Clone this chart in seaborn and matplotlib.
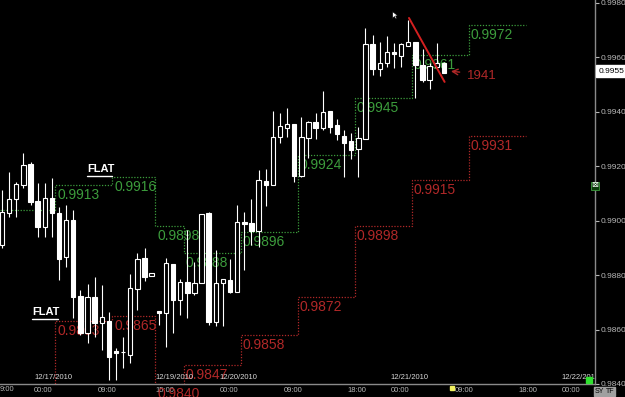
import matplotlib
matplotlib.use("Agg")
import matplotlib.pyplot as plt
import seaborn as sns
import numpy as np
import pandas as pd
from matplotlib.transforms import blended_transform_factory

# ---------------- data ----------------
opens = [0.98911, 0.99028, 0.99080, 0.99131, 0.99208, 0.99072, 0.98977, 0.99083, 0.99028, 0.98867,
         0.99003, 0.98723, 0.98587, 0.98720, 0.98624, 0.98631, 0.98521, 0.98517, 0.98506, 0.98749,
         0.98863, 0.98797, 0.98668, 0.98661, 0.98841, 0.98709, 0.98775, 0.98734, 0.98771, 0.99028,
         0.98628, 0.98771, 0.98782, 0.98738, 0.98995, 0.98991, 0.98962, 0.99146, 0.99131, 0.99308,
         0.99341, 0.99355, 0.99164, 0.99304, 0.99363, 0.99341, 0.99403, 0.99352, 0.99311, 0.99293,
         0.99263, 0.99300, 0.99649, 0.99557, 0.99579, 0.99620, 0.99605, 0.99642, 0.99657, 0.99572,
         0.99517, 0.99565, 0.99579]
closes = [0.99032, 0.99080, 0.99135, 0.99205, 0.99069, 0.98977, 0.99083, 0.99028, 0.98859, 0.99002,
          0.98720, 0.98587, 0.98720, 0.98624, 0.98646, 0.98499, 0.98514, 0.98517, 0.98753, 0.98859,
          0.98793, 0.98808, 0.98661, 0.98844, 0.98709, 0.98775, 0.98734, 0.98771, 0.99025, 0.98628,
          0.98771, 0.98786, 0.98738, 0.98995, 0.98988, 0.98962, 0.99150, 0.99131, 0.99308, 0.99348,
          0.99355, 0.99164, 0.99308, 0.99363, 0.99341, 0.99399, 0.99344, 0.99319, 0.99285, 0.99260,
          0.99304, 0.99649, 0.99557, 0.99579, 0.99620, 0.99613, 0.99649, 0.99657, 0.99572, 0.99517,
          0.99568, 0.99579, 0.99543]
highs = [0.99113, 0.99179, 0.99142, 0.99249, 0.99216, 0.99138, 0.99138, 0.99157, 0.99050, 0.99058,
         0.99039, 0.98745, 0.98767, 0.98793, 0.98764, 0.98664, 0.98532, 0.98572, 0.98804, 0.98881,
         0.98900, 0.98808, 0.98668, 0.98863, 0.98841, 0.98786, 0.98966, 0.98848, 0.99025, 0.99032,
         0.98892, 0.98786, 0.98859, 0.99058, 0.99032, 0.99080, 0.99186, 0.99190, 0.99403, 0.99396,
         0.99414, 0.99355, 0.99381, 0.99366, 0.99396, 0.99477, 0.99403, 0.99374, 0.99333, 0.99322,
         0.99344, 0.99708, 0.99682, 0.99657, 0.99679, 0.99653, 0.99653, 0.99738, 0.99657, 0.99631,
         0.99579, 0.99653, 0.99583]
lows = [0.98900, 0.99014, 0.99014, 0.99120, 0.99058, 0.98940, 0.98940, 0.98940, 0.98782, 0.98830,
        0.98642, 0.98580, 0.98551, 0.98573, 0.98525, 0.98414, 0.98414, 0.98459, 0.98477, 0.98672,
        0.98778, 0.98797, 0.98617, 0.98536, 0.98587, 0.98653, 0.98642, 0.98727, 0.98771, 0.98617,
        0.98613, 0.98613, 0.98734, 0.98738, 0.98819, 0.98911, 0.98903, 0.99054, 0.99131, 0.99285,
        0.99308, 0.99142, 0.99161, 0.99230, 0.99300, 0.99333, 0.99322, 0.99297, 0.99161, 0.99227,
        0.99161, 0.99300, 0.99535, 0.99532, 0.99565, 0.99561, 0.99565, 0.99642, 0.99451, 0.99510,
        0.99484, 0.99557, 0.99543]

step_edges = [-0.3, 7.5, 15.5, 21.5, 25.5, 33.5, 41.5, 49.5, 57.5, 65.5, 73.5]
resist_levels = [0.9904, 0.9913, 0.9916, 0.9898, 0.9888, 0.9896, 0.9924, 0.9945, 0.9961, 0.9972]
support_levels = [0.9832, 0.9863, 0.9865, 0.9840, 0.9847, 0.9858, 0.9872, 0.9898, 0.9915, 0.9931]

time_ticks = [4.5, 13.5, 21.5, 30.5, 39.5, 48.5, 54.5, 63.5, 72.5, 78.5]
time_labels = ["00:00", "09:00", "15:00", "00:00", "09:00", "18:00", "00:00", "09:00", "18:00", "00:00"]
date_ticks = [4.5, 21.5, 30.5, 54.5, 78.5]
date_labels = ["12/17/2010", "12/19/2010", "12/20/2010", "12/21/2010", "12/22/2010"]
y_ticks = [0.9840, 0.9860, 0.9880, 0.9900, 0.9920, 0.9940, 0.9960, 0.9980]

flat_notes = [(11.9, 0.99170), (4.2, 0.98645)]
trend_x = [57.1, 62.1]
trend_y = [0.99745, 0.99510]
last_price = 0.9955

# ---------------- style ----------------
sns.set_style("dark", {"axes.facecolor": "black", "figure.facecolor": "black",
                       "axes.edgecolor": "#8a8a8a"})
plt.rcParams['font.family'] = ['Liberation Sans', 'DejaVu Sans']

GREEN = "#3c9c3c"
RED = "#b02828"
GRAY = "#b8b8b8"

fig = plt.figure(figsize=(6.25, 3.97), dpi=100)
ax = fig.add_axes([0, 13 / 397, 595 / 625, 384 / 397])
ax.set_facecolor("black")

n = len(opens)
idx = np.arange(n)
o = np.array(opens); c = np.array(closes); h = np.array(highs); l = np.array(lows)
up = c >= o

# step levels (seaborn)
for levels, col in [(resist_levels, GREEN), (support_levels, RED)]:
    df = pd.DataFrame({"x": step_edges, "y": levels + [levels[-1]]})
    sns.lineplot(data=df, x="x", y="y", ax=ax, sort=False, estimator=None,
                 drawstyle="steps-post", color=col, linewidth=0.9,
                 linestyle=(0, (1, 1.3)), zorder=1)
    for x0, lv in zip(step_edges[1:], levels[1:]):
        ax.text(x0 + 0.25, lv - 0.00011, f"{lv:.4f}", color=col, fontsize=10,
                ha="left", va="top", zorder=1, clip_on=False)

# candles
ax.vlines(idx, l, h, color="white", linewidth=0.8, zorder=2)
bottom = np.minimum(o, c)
height = np.abs(c - o)
ax.bar(idx[up], height[up], bottom=bottom[up], width=0.62, facecolor="black",
       edgecolor="white", linewidth=0.8, zorder=3)
ax.bar(idx[~up], height[~up], bottom=bottom[~up], width=0.62, facecolor="white",
       edgecolor="white", linewidth=0.8, zorder=3)

# trendline, arrow, note
ax.plot(trend_x, trend_y, color="#d42020", linewidth=1.4, zorder=4)
ax.annotate("", xy=(62.6, 0.99550), xytext=(64.6, 0.99545),
            arrowprops=dict(arrowstyle="->", color=RED, lw=1.0), zorder=4)
ax.text(65.2, 0.99532, "1941", color=RED, fontsize=9.5, ha="left", va="center", zorder=4)

# FLAT notes
for fx, fy in flat_notes:
    t = ax.text(fx, fy, "FLAT", color="white", fontsize=8, fontweight="bold",
                ha="left", va="bottom", zorder=4)
    ax.plot([fx, fx + 3.6], [fy - 0.00006, fy - 0.00006], color="white", lw=1.0, zorder=4)

# mouse cursor
cursor = [(0, 0), (0, -11), (3, -8), (5, -12), (7, -11), (5, -7), (9, -7), (0, 0)]
ax.plot([54.7], [0.99770], marker=cursor, markersize=11, color="white",
        markeredgecolor="black", markeredgewidth=0.5, zorder=5)

# axes
ax.set_xlim(-0.28, 83.2)
ax.set_ylim(0.98400, 0.99811)
ax.yaxis.tick_right()
ax.set_yticks(y_ticks)
ax.set_yticklabels([f"{v:.4f}" for v in y_ticks])
ax.set_xticks(time_ticks)
ax.set_xticklabels(time_labels, ha="left")
ax.tick_params(axis="y", colors=GRAY, labelsize=6, length=3, direction="out", pad=1,
               width=0.8)
ax.tick_params(axis="x", colors=GRAY, labelsize=5.5, length=3, direction="inout", pad=1,
               width=0.8)
ax.set_xlabel(""); ax.set_ylabel("")
for s in ["top", "left"]:
    ax.spines[s].set_visible(False)
for s in ["bottom", "right"]:
    ax.spines[s].set_color("#8a8a8a")
    ax.spines[s].set_linewidth(1.0)
ax.grid(False)

tr = blended_transform_factory(ax.transData, ax.transAxes)
for dx, dl in zip(date_ticks, date_labels):
    ax.text(dx, 0.008, dl, transform=tr, color="#d8d8d8", fontsize=5.5,
            ha="left", va="bottom", clip_on=True)
ax.text(0.0, -0.005, "9:00", transform=ax.transAxes, color=GRAY, fontsize=5.5,
        ha="left", va="top")

# last price box
ty = blended_transform_factory(ax.transAxes, ax.transData)
ax.text(1.006, last_price, f"{last_price:.4f}", transform=ty, color="black", fontsize=6,
        ha="left", va="center",
        bbox=dict(boxstyle="square,pad=0.25", facecolor="white", edgecolor="white"))
ax.text(0.994, 0.99128, "\u22a0", transform=ty, color="white", fontsize=6,
        ha="left", va="center", clip_on=False,
        bbox=dict(boxstyle="square,pad=0.1", facecolor="#0a3a0a", edgecolor=GREEN, lw=0.6))

# small status markers
fig.text(595 / 625, 2 / 397, "SY", color="black", fontsize=5, ha="left", va="bottom",
         bbox=dict(boxstyle="square,pad=0.12", facecolor="#a0a0a0", edgecolor="#a0a0a0"))
fig.text(606 / 625, 2 / 397, "TF", color="black", fontsize=5, ha="left", va="bottom",
         bbox=dict(boxstyle="square,pad=0.12", facecolor="#a0a0a0", edgecolor="#a0a0a0"))
ax.plot([82.3], [0.98415], marker="s", markersize=5, color="#30e030", clip_on=False, zorder=6)
ax.plot([63.1], [0.98385], marker="s", markersize=3, color="#f0f060", clip_on=False, zorder=6)

fig.savefig("out.png", dpi=100, facecolor="black")
